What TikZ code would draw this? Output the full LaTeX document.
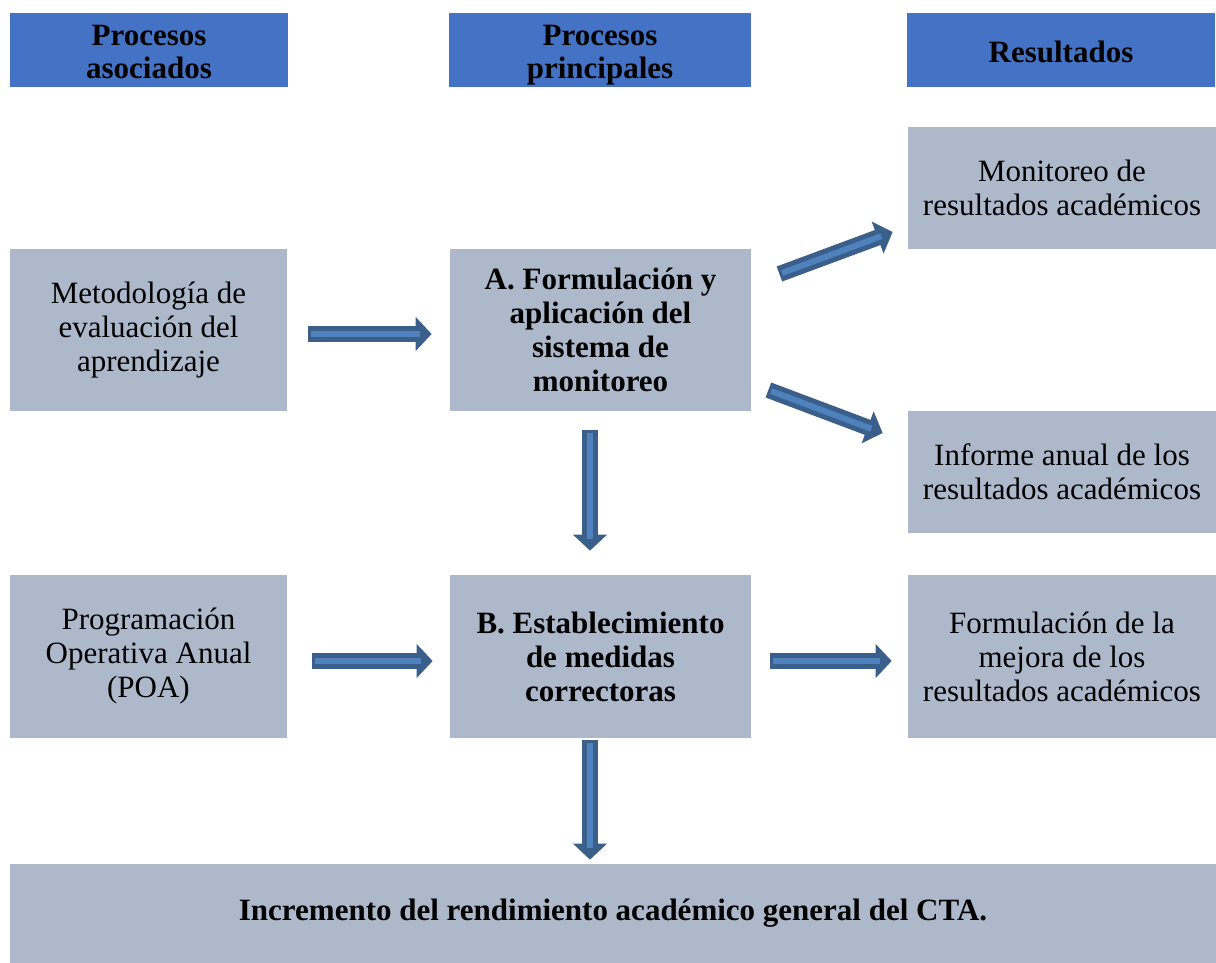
\documentclass[tikz,border=0pt]{standalone}
\usepackage{fontspec}
\setmainfont{Liberation Serif}
\usepackage{xcolor}
\usepackage{tikz}
\usetikzlibrary{calc, positioning, arrows.meta}

\definecolor{azulcab}{HTML}{4472C4}
\definecolor{grisazul}{HTML}{ADB9CA}
\definecolor{flechaosc}{HTML}{3A5F8B}
\definecolor{flechaclara}{HTML}{4F81BD}

\newcommand{\tamano}{\fontsize{15.5pt}{17pt}\selectfont}

\tikzset{
	cabecera/.style={fill=azulcab, font=\tamano\bfseries, align=center, minimum height=37pt, inner sep=0pt},
	caja/.style={fill=grisazul, font=\tamano, align=center, inner sep=0pt},
	cajanegrita/.style={caja, font=\tamano\bfseries},
	bloque/.style={line width=8pt, draw=flechaosc, -{Triangle[length=8pt,width=17pt,line width=0.5pt,fill=flechaosc]}},
	franja/.style={line width=3pt, draw=flechaclara}
}

% flecha de bloque: origen, destino, recorte inicial, recorte final
\newcommand{\flecha}[4]{%
	\draw[bloque, shorten <=#3, shorten >=#4] #1 -- #2;
	\draw[franja, shorten <=#3+1.5pt, shorten >=#4+6pt] #1 -- #2;
}

\begin{document}
\begin{tikzpicture}[x=0.5pt, y=0.5pt]
	\useasboundingbox (0,0) rectangle (1216,-963);

	\node[cabecera, minimum width=139pt] (cabA) at (149,-50) {\rule{0pt}{16pt}Procesos\\asociados\rule[-4pt]{0pt}{4pt}};
	\node[cabecera, minimum width=151pt] (cabB) at (600,-50) {\rule{0pt}{16pt}Procesos\\principales\rule[-4pt]{0pt}{4pt}};
	\node[cabecera, minimum width=154pt] (cabC) at (1061,-50) {\rule{0pt}{13pt}Resultados};

	\node[caja, minimum width=138.5pt, minimum height=81pt] (metod) at (148.5,-330) {Metodología de\\evaluación del\\aprendizaje};
	\node[cajanegrita, minimum width=150.5pt, minimum height=81pt] (formA) at (600.5,-330) {A. Formulación y\\aplicación del\\sistema de\\monitoreo};
	\node[caja, minimum width=154pt, minimum height=61pt] (monit) at (1062,-188) {Monitoreo de\\resultados académicos};
	\node[caja, minimum width=154pt, minimum height=61pt] (informe) at (1062,-472) {Informe anual de los\\resultados académicos};

	\node[caja, minimum width=138.5pt, minimum height=81.5pt] (prog) at (148.5,-656.5) {Programación\\Operativa Anual\\(POA)};
	\node[cajanegrita, minimum width=150.5pt, minimum height=81.5pt] (formB) at (600.5,-656.5) {B. Establecimiento\\de medidas\\correctoras};
	\node[caja, minimum width=154pt, minimum height=81.5pt] (mejora) at (1062,-656.5) {Formulación de la\\mejora de los\\resultados académicos};

	\node[cajanegrita, minimum width=603pt, minimum height=49.5pt] (increm) at (613,-913.5) {Incremento del rendimiento académico general del CTA.};

	\flecha{([yshift=-2pt]metod.east)}{([yshift=-2pt]formA.west)}{10.5pt}{9pt}
	\flecha{([xshift=14pt,yshift=28pt]formA.east)}{([xshift=-7.5pt,yshift=-22pt]monit.west)}{0pt}{0pt}
	\flecha{([xshift=8.5pt,yshift=-30pt]formA.east)}{([xshift=-12.5pt,yshift=19.5pt]informe.west)}{0pt}{0pt}
	\flecha{([xshift=-5.25pt]formA.south)}{([xshift=-5.25pt]formB.north)}{9.5pt}{12pt}

	\flecha{([yshift=-2.25pt]prog.east)}{([yshift=-2.25pt]formB.west)}{12.5pt}{8.5pt}
	\flecha{([yshift=-2.25pt]formB.east)}{([yshift=-2.25pt]mejora.west)}{9.5pt}{8pt}
	\flecha{([xshift=-5.25pt]formB.south)}{([xshift=-5.25pt]formB.south |- increm.north)}{1pt}{2pt}
\end{tikzpicture}
\end{document}
